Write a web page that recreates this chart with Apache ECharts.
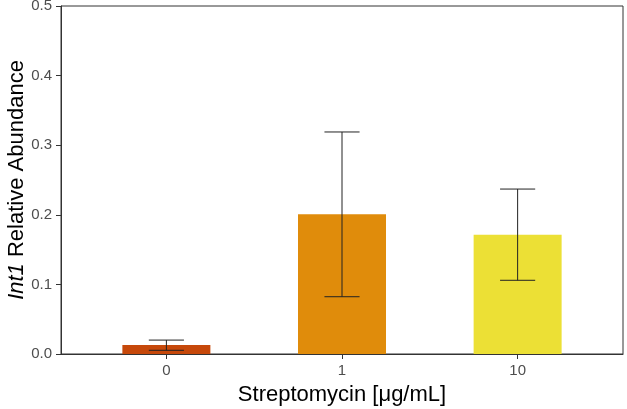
<!DOCTYPE html>
<html><head><meta charset="utf-8">
<script src="https://cdn.jsdelivr.net/npm/echarts@6/dist/echarts.min.js"></script>
<style>html,body{margin:0;padding:0;background:#fff}#c{width:627px;height:409px}</style>
</head><body><div id="c"></div>
<script>
const categories = ['0', '1', '10'];
const means = [0.0129, 0.2007, 0.1715];
const lower = [0.0053, 0.0823, 0.1059];
const upper = [0.0200, 0.3190, 0.2370];
const colors = ['#C6480A', '#E08C0B', '#ECE035'];
const yTicks = [0, 0.1, 0.2, 0.3, 0.4, 0.5];

const pos = categories.map((c, i) => i + 1);
const chart = echarts.init(document.getElementById('c'), null, {renderer: 'canvas'});
const font = 'Liberation Sans, Arial, sans-serif';
chart.setOption({
  animation: false,
  grid: {left: 61, right: 4, top: 6, bottom: 55, containLabel: false, outerBoundsMode: 'none',
         show: true, borderColor: '#333', borderWidth: 1, backgroundColor: 'transparent'},
  xAxis: {
    type: 'value', min: 0.4, max: 3.6,
    axisLine: {show: true, onZero: false, lineStyle: {color: '#333', width: 1}},
    axisTick: {show: true, length: 5, customValues: pos, lineStyle: {color: '#333'}},
    axisLabel: {customValues: pos, formatter: v => categories[Math.round(v) - 1], color: '#4D4D4D', fontSize: 15, fontFamily: font, margin: 9},
    splitLine: {show: false},
    name: 'Streptomycin [\u03bcg/mL]', nameLocation: 'middle', nameGap: 30, nameMoveOverlap: false,
    nameTextStyle: {color: '#000', fontSize: 22, fontFamily: font}
  },
  yAxis: {
    type: 'value', min: 0, max: 0.5, interval: 0.1,
    axisLine: {show: true, lineStyle: {color: '#333', width: 1}},
    axisTick: {show: true, length: 5, customValues: yTicks, lineStyle: {color: '#333'}},
    axisLabel: {customValues: yTicks, formatter: v => v.toFixed(1), color: '#4D4D4D', fontSize: 15, fontFamily: font, margin: 9},
    splitLine: {show: false},
    name: '{i|Int1} Relative Abundance', nameLocation: 'middle', nameGap: 33, nameMoveOverlap: false,
    nameTextStyle: {color: '#000', fontSize: 22, fontFamily: font,
      rich: {i: {fontStyle: 'italic', fontSize: 22, fontFamily: font, color: '#000'}}}
  },
  series: [
    {
      type: 'bar', barWidth: 88,
      data: pos.map((p, i) => ({value: [p, means[i]], itemStyle: {color: colors[i]}}))
    },
    {
      type: 'custom', z: 10,
      data: pos.map((p, i) => [p, lower[i], upper[i]]),
      renderItem: (params, api) => {
        const x = api.value(0);
        const lo = api.coord([x, api.value(1)]);
        const hi = api.coord([x, api.value(2)]);
        const half = api.size([0.1, 0])[0];
        const st = {stroke: '#222', lineWidth: 1};
        return {type: 'group', children: [
          {type: 'line', shape: {x1: lo[0], y1: lo[1], x2: hi[0], y2: hi[1]}, style: st},
          {type: 'line', shape: {x1: lo[0] - half, y1: lo[1], x2: lo[0] + half, y2: lo[1]}, style: st},
          {type: 'line', shape: {x1: hi[0] - half, y1: hi[1], x2: hi[0] + half, y2: hi[1]}, style: st}
        ]};
      }
    }
  ]
});
</script></body></html>
